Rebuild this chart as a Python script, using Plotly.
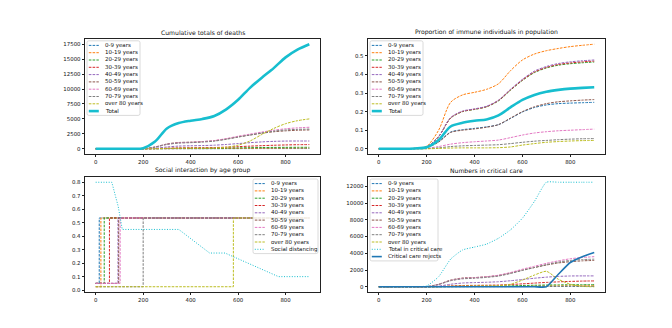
import plotly.graph_objects as go
from plotly.subplots import make_subplots

# Days sampled every 50 days
days = [0, 50, 100, 150, 200, 250, 300, 350, 400, 450, 500, 550, 600, 650, 700, 750, 800, 850, 900]

age_groups = ["0-9 years", "10-19 years", "20-29 years", "30-39 years", "40-49 years",
              "50-59 years", "60-69 years", "70-79 years", "over 80 years"]

# Cumulative deaths by age group
deaths_0_9 = [0, 0, 0, 0, 0, 2, 6, 10, 12, 14, 16, 20, 25, 30, 34, 36, 38, 39, 40]
deaths_10_19 = [0, 0, 0, 0, 0, 5, 15, 25, 30, 34, 40, 52, 68, 85, 98, 108, 114, 118, 120]
deaths_20_29 = [0, 0, 0, 0, 1, 12, 40, 60, 70, 78, 90, 115, 150, 185, 210, 228, 240, 246, 250]
deaths_30_39 = [0, 0, 0, 0, 2, 30, 100, 150, 170, 185, 210, 270, 350, 440, 520, 590, 640, 680, 700]
deaths_40_49 = [0, 0, 0, 0, 3, 80, 300, 450, 500, 540, 600, 720, 870, 1020, 1150, 1240, 1290, 1300, 1300]
deaths_50_59 = [0, 0, 0, 0, 10, 300, 800, 1050, 1100, 1200, 1350, 1650, 2000, 2300, 2600, 2850, 3000, 3100, 3150]
deaths_60_69 = [0, 0, 0, 0, 10, 280, 750, 1000, 1080, 1200, 1380, 1700, 2100, 2450, 2800, 3100, 3350, 3500, 3600]
deaths_70_79 = [0, 0, 0, 0, 10, 270, 720, 950, 1020, 1120, 1280, 1580, 1950, 2300, 2650, 2950, 3150, 3250, 3300]
deaths_over_80 = [0, 0, 0, 0, 0, 20, 60, 90, 100, 110, 130, 250, 600, 1300, 2400, 3400, 4200, 4700, 5000]
deaths_total = [0, 0, 0, 10, 100, 1200, 3400, 4300, 4700, 5000, 5500, 6600, 8200, 10200, 11900, 13500, 15300, 16600, 17500]

# Proportion immune by age group
immune_0_9 = [0, 0, 0, 0.002, 0.008, 0.038, 0.09, 0.103, 0.11, 0.118, 0.13, 0.163, 0.198, 0.222, 0.236, 0.243, 0.246, 0.248, 0.25]
immune_10_19 = [0, 0, 0, 0.003, 0.014, 0.10, 0.25, 0.29, 0.304, 0.32, 0.35, 0.42, 0.478, 0.51, 0.528, 0.54, 0.55, 0.557, 0.563]
immune_20_29 = [0, 0, 0, 0.002, 0.01, 0.065, 0.165, 0.2, 0.212, 0.226, 0.258, 0.315, 0.368, 0.41, 0.435, 0.45, 0.458, 0.463, 0.467]
immune_30_39 = [0, 0, 0, 0.002, 0.01, 0.065, 0.166, 0.201, 0.213, 0.227, 0.26, 0.317, 0.37, 0.413, 0.438, 0.454, 0.462, 0.468, 0.472]
immune_40_49 = [0, 0, 0, 0.002, 0.01, 0.066, 0.168, 0.203, 0.215, 0.229, 0.262, 0.32, 0.374, 0.418, 0.443, 0.459, 0.468, 0.474, 0.478]
immune_50_59 = [0, 0, 0, 0.001, 0.007, 0.036, 0.088, 0.1, 0.107, 0.116, 0.13, 0.165, 0.2, 0.226, 0.243, 0.253, 0.258, 0.262, 0.265]
immune_60_69 = [0, 0, 0, 0, 0.003, 0.012, 0.025, 0.033, 0.038, 0.042, 0.047, 0.06, 0.074, 0.085, 0.092, 0.097, 0.1, 0.103, 0.106]
immune_70_79 = [0, 0, 0, 0, 0.001, 0.005, 0.012, 0.016, 0.018, 0.02, 0.022, 0.028, 0.035, 0.041, 0.045, 0.049, 0.052, 0.054, 0.055]
immune_over_80 = [0, 0, 0, 0, 0, 0.002, 0.004, 0.005, 0.005, 0.005, 0.006, 0.01, 0.02, 0.028, 0.035, 0.039, 0.042, 0.044, 0.045]
immune_total = [0, 0, 0, 0.002, 0.008, 0.047, 0.12, 0.14, 0.151, 0.158, 0.18, 0.223, 0.263, 0.29, 0.307, 0.317, 0.324, 0.328, 0.331]

# Social interaction: level before / after the release day of each age group
release_day = [15, 22, 36, 58, 94, 97, 103, 200, 580]
interaction_before = [0.05, 0.025, 0.05, 0.05, 0.05, 0.05, 0.05, 0.025, 0.025]
interaction_after = [0.535, 0.535, 0.535, 0.535, 0.535, 0.535, 0.535, 0.535, 0.535]
distancing_days = [0, 68, 95, 105, 112, 350, 480, 545, 770, 900]
distancing_level = [0.8, 0.8, 0.62, 0.5, 0.45, 0.45, 0.275, 0.275, 0.1, 0.1]

# Critical care
critical_over_80 = [0, 0, 0, 0, 0, 20, 60, 90, 100, 110, 130, 300, 800, 1400, 1850, 900, 300, 50, 0]
critical_total = [0, 0, 0, 10, 100, 1200, 3300, 4400, 4750, 5100, 5800, 6800, 8200, 10200, 12500, 12500, 12500, 12500, 12500]
critical_rejects = [0, 0, 0, 0, 0, 0, 0, 0, 0, 0, 0, 0, 0, 0, 0, 1500, 2900, 3600, 4100]

colors = ["#1f77b4", "#ff7f0e", "#2ca02c", "#d62728", "#9467bd",
          "#8c564b", "#e377c2", "#7f7f7f", "#bcbd22", "#17becf"]

W, H = 672, 328
FONT = "DejaVu Sans"
DASH = "2.6px,1.2px"
DOT = "1px,1.6px"


def px(x):
    return x / W


def py(y):
    return 1 - y / H


deaths = [deaths_0_9, deaths_10_19, deaths_20_29, deaths_30_39, deaths_40_49,
          deaths_50_59, deaths_60_69, deaths_70_79, deaths_over_80]
immune = [immune_0_9, immune_10_19, immune_20_29, immune_30_39, immune_40_49,
          immune_50_59, immune_60_69, immune_70_79, immune_over_80]
critical = deaths[:8] + [critical_over_80]

fig = make_subplots(rows=2, cols=2)

line_opts = dict(mode="lines", line_shape="spline", showlegend=False, hoverinfo="skip")

for i, name in enumerate(age_groups):
    fig.add_trace(go.Scatter(x=days, y=deaths[i], name=name,
                             line=dict(color=colors[i], width=1, dash=DASH, smoothing=0.8), **line_opts), row=1, col=1)
fig.add_trace(go.Scatter(x=days, y=deaths_total, name="Total",
                         line=dict(color=colors[9], width=2.6, smoothing=0.8), **line_opts), row=1, col=1)

for i, name in enumerate(age_groups):
    fig.add_trace(go.Scatter(x=days, y=immune[i], name=name,
                             line=dict(color=colors[i], width=1, dash=DASH, smoothing=0.8), **line_opts), row=1, col=2)
fig.add_trace(go.Scatter(x=days, y=immune_total, name="Total",
                         line=dict(color=colors[9], width=2.6, smoothing=0.8), **line_opts), row=1, col=2)

for i, name in enumerate(age_groups):
    fig.add_trace(go.Scatter(x=[0, release_day[i], 900],
                             y=[interaction_before[i], interaction_after[i], interaction_after[i]],
                             name=name, mode="lines", line_shape="hv", showlegend=False, hoverinfo="skip",
                             line=dict(color=colors[i], width=1, dash=DASH)), row=2, col=1)
fig.add_trace(go.Scatter(x=distancing_days, y=distancing_level, name="Social distancing",
                         mode="lines", showlegend=False, hoverinfo="skip",
                         line=dict(color=colors[9], width=1, dash=DOT)), row=2, col=1)

for i, name in enumerate(age_groups):
    fig.add_trace(go.Scatter(x=days, y=critical[i], name=name,
                             line=dict(color=colors[i], width=1, dash=DASH, smoothing=0.6), **line_opts), row=2, col=2)
fig.add_trace(go.Scatter(x=days, y=critical_total, name="Total in critical care",
                         line=dict(color=colors[9], width=1, dash=DOT, smoothing=0.5), **line_opts), row=2, col=2)
fig.add_trace(go.Scatter(x=days, y=critical_rejects, name="Critical care rejects",
                         line=dict(color=colors[0], width=1.6, smoothing=0.5), **line_opts), row=2, col=2)

# axes boxes in pixels: (left, right, top, bottom)
boxes = {
    (1, 1): (85, 320, 39, 154),
    (1, 2): (368, 605, 39, 154),
    (2, 1): (85, 320, 177, 292),
    (2, 2): (368, 605, 177, 292),
}
y_ranges = {
    (1, 1): ([-875, 18375], 2500, None),
    (1, 2): ([-0.028, 0.591], 0.1, ".1f"),
    (2, 1): ([-0.014, 0.839], 0.1, ".1f"),
    (2, 2): ([-625, 13125], 2000, None),
}
titles = {
    (1, 1): "Cumulative totals of deaths",
    (1, 2): "Proportion of immune individuals in population",
    (2, 1): "Social interaction by age group",
    (2, 2): "Numbers in critical care",
}

axis_style = dict(showline=True, mirror=True, linecolor="#222", linewidth=0.8, showgrid=False,
                  zeroline=False, ticks="outside", ticklen=2.5, tickwidth=0.8, tickcolor="#222",
                  tickfont=dict(family=FONT, size=5.4, color="#111"))

annotations = []
for (r, c), (x0, x1, y0, y1) in boxes.items():
    yr, dt, fmt = y_ranges[(r, c)]
    fig.update_xaxes(domain=[px(x0), px(x1)], range=[-45, 945], tick0=0, dtick=200, row=r, col=c, **axis_style)
    fig.update_yaxes(domain=[py(y1), py(y0)], range=yr, tick0=0, dtick=dt, row=r, col=c,
                     tickformat=fmt if fmt else "d", **axis_style)
    annotations.append(dict(text=titles[(r, c)], x=px((x0 + x1) / 2), y=py(y0 - 1.5), xref="paper", yref="paper",
                            xanchor="center", yanchor="bottom", showarrow=False,
                            font=dict(family=FONT, size=6.1, color="#111")))

# legends drawn as matplotlib-style boxes
shapes = []


def rounded_box(x0, y0, x1, y1, r=1.8):
    return (f"M {px(x0 + r)},{py(y0)} L {px(x1 - r)},{py(y0)} Q {px(x1)},{py(y0)} {px(x1)},{py(y0 + r)} "
            f"L {px(x1)},{py(y1 - r)} Q {px(x1)},{py(y1)} {px(x1 - r)},{py(y1)} "
            f"L {px(x0 + r)},{py(y1)} Q {px(x0)},{py(y1)} {px(x0)},{py(y1 - r)} "
            f"L {px(x0)},{py(y0 + r)} Q {px(x0)},{py(y0)} {px(x0 + r)},{py(y0)} Z")


def add_legend(left, top, width, entries):
    step = 7.3
    bottom = top + step * len(entries) + 1.6
    shapes.append(dict(type="path", xref="paper", yref="paper", path=rounded_box(left, top, left + width, bottom),
                       fillcolor="rgba(255,255,255,0.85)", line=dict(color="#d0d0d0", width=0.8), layer="above"))
    for k, (label, color, width_, dash) in enumerate(entries):
        yc = top + 4.6 + step * k
        shapes.append(dict(type="line", xref="paper", yref="paper", x0=px(left + 1.8), x1=px(left + 11.8),
                           y0=py(yc), y1=py(yc), line=dict(color=color, width=width_, dash=dash), layer="above"))
        annotations.append(dict(text=label, x=px(left + 15.5), y=py(yc), xref="paper", yref="paper",
                                xanchor="left", yanchor="middle", showarrow=False,
                                font=dict(family=FONT, size=5.5, color="#111")))


age_entries = [(name, colors[i], 1, DASH) for i, name in enumerate(age_groups)]
add_legend(87, 40.8, 53, age_entries + [("Total", colors[9], 2.6, "solid")])
add_legend(370, 40.8, 53, age_entries + [("Total", colors[9], 2.6, "solid")])
add_legend(253, 179, 65, age_entries + [("Social distancing", colors[9], 1, DOT)])
add_legend(370, 179, 68, age_entries + [("Total in critical care", colors[9], 1, DOT),
                                        ("Critical care rejects", colors[0], 1.6, "solid")])

fig.update_layout(
    template="none",
    width=W, height=H,
    margin=dict(l=0, r=0, t=0, b=0),
    paper_bgcolor="white", plot_bgcolor="white",
    showlegend=False,
    annotations=annotations,
    shapes=shapes,
    font=dict(family=FONT, color="#111"),
)

# drop the browser's default body margin so the figure sits at the page origin
fig.write_html("out.html", config={"displayModeBar": False},
               post_script="document.body.style.margin='0';")
